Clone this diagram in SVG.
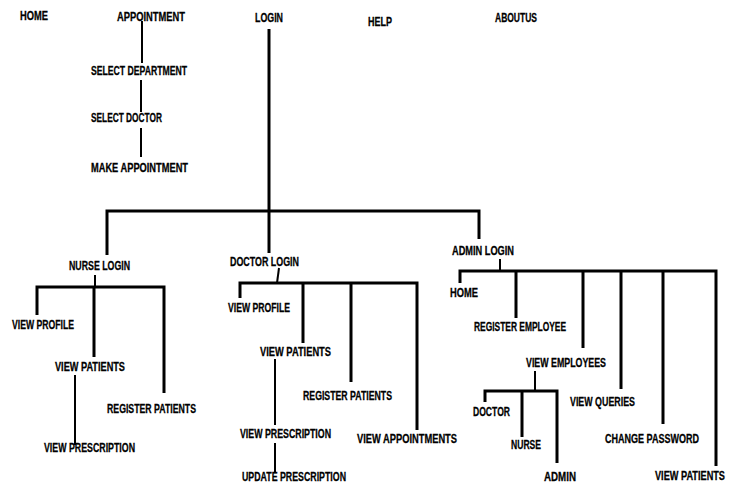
<svg xmlns="http://www.w3.org/2000/svg" width="735" height="486" viewBox="0 0 735 486">
<style>
text{font-family:"Liberation Sans Narrow","Liberation Sans",Arial,sans-serif;font-weight:bold;font-size:13px;fill:#000;stroke:#000;stroke-width:0.3}
.c{fill:none;stroke:#000;stroke-width:3;stroke-linejoin:miter;stroke-linecap:butt}
.t{stroke-width:2}
</style>
<rect width="735" height="486" fill="#fff"/>
<g id="connectors">
<path class="c t" d="M142 21V63M141 80V112M141 128V157"/>
<path class="c" d="M269 29V253"/>
<path class="c" d="M107 255V211H479V239"/>
<path class="c t" d="M95 275V287"/>
<path class="c" d="M37 315V287H164V393M94 287V357"/>
<path class="c t" d="M75 375V445"/>
<path class="c t" d="M279 268L277 283"/>
<path class="c" d="M240 298V283H417V430M303 283V343M351 283V382"/>
<path class="c t" d="M275 359V425M275 443V473"/>
<path class="c t" d="M500 259V271"/>
<path class="c" d="M460 283V271H716V466M516 271V318M583 271V348M621 271V389M663 271V424"/>
<path class="c t" d="M535 371V391"/>
<path class="c" d="M485 402V391H557V463M522 391V437"/>
</g>
<g id="n-home"><text x="20" y="20" textLength="28" lengthAdjust="spacingAndGlyphs">HOME</text></g>
<g id="n-appointment"><text x="117" y="21" textLength="68" lengthAdjust="spacingAndGlyphs">APPOINTMENT</text></g>
<g id="n-login"><text x="255" y="22" textLength="28" lengthAdjust="spacingAndGlyphs">LOGIN</text></g>
<g id="n-help"><text x="368" y="26" textLength="24" lengthAdjust="spacingAndGlyphs">HELP</text></g>
<g id="n-aboutus"><text x="495" y="22" textLength="42" lengthAdjust="spacingAndGlyphs">ABOUTUS</text></g>
<g id="n-selectdept"><text x="91" y="75" textLength="96" lengthAdjust="spacingAndGlyphs">SELECT DEPARTMENT</text></g>
<g id="n-selectdoc"><text x="91" y="122" textLength="71" lengthAdjust="spacingAndGlyphs">SELECT DOCTOR</text></g>
<g id="n-makeappt"><text x="91" y="172" textLength="97" lengthAdjust="spacingAndGlyphs">MAKE APPOINTMENT</text></g>
<g id="n-nurselogin"><text x="69" y="270" textLength="61" lengthAdjust="spacingAndGlyphs">NURSE LOGIN</text></g>
<g id="n-nurse-profile"><text x="12" y="329" textLength="62" lengthAdjust="spacingAndGlyphs">VIEW PROFILE</text></g>
<g id="n-nurse-patients"><text x="55" y="371" textLength="70" lengthAdjust="spacingAndGlyphs">VIEW PATIENTS</text></g>
<g id="n-nurse-register"><text x="107" y="413" textLength="89" lengthAdjust="spacingAndGlyphs">REGISTER PATIENTS</text></g>
<g id="n-nurse-prescription"><text x="44" y="452" textLength="91" lengthAdjust="spacingAndGlyphs">VIEW PRESCRIPTION</text></g>
<g id="n-doctorlogin"><text x="230" y="266" textLength="69" lengthAdjust="spacingAndGlyphs">DOCTOR LOGIN</text></g>
<g id="n-doc-profile"><text x="228" y="312" textLength="62" lengthAdjust="spacingAndGlyphs">VIEW PROFILE</text></g>
<g id="n-doc-patients"><text x="260" y="356" textLength="71" lengthAdjust="spacingAndGlyphs">VIEW PATIENTS</text></g>
<g id="n-doc-register"><text x="303" y="400" textLength="89" lengthAdjust="spacingAndGlyphs">REGISTER PATIENTS</text></g>
<g id="n-doc-appointments"><text x="357" y="443" textLength="100" lengthAdjust="spacingAndGlyphs">VIEW APPOINTMENTS</text></g>
<g id="n-doc-prescription"><text x="240" y="438" textLength="91" lengthAdjust="spacingAndGlyphs">VIEW PRESCRIPTION</text></g>
<g id="n-doc-update"><text x="242" y="481" textLength="104" lengthAdjust="spacingAndGlyphs">UPDATE PRESCRIPTION</text></g>
<g id="n-adminlogin"><text x="452" y="255" textLength="62" lengthAdjust="spacingAndGlyphs">ADMIN LOGIN</text></g>
<g id="n-admin-home"><text x="450" y="297" textLength="28" lengthAdjust="spacingAndGlyphs">HOME</text></g>
<g id="n-admin-register"><text x="474" y="331" textLength="92" lengthAdjust="spacingAndGlyphs">REGISTER EMPLOYEE</text></g>
<g id="n-admin-employees"><text x="526" y="367" textLength="80" lengthAdjust="spacingAndGlyphs">VIEW EMPLOYEES</text></g>
<g id="n-admin-queries"><text x="570" y="406" textLength="65" lengthAdjust="spacingAndGlyphs">VIEW QUERIES</text></g>
<g id="n-admin-password"><text x="605" y="443" textLength="94" lengthAdjust="spacingAndGlyphs">CHANGE PASSWORD</text></g>
<g id="n-admin-patients"><text x="655" y="480" textLength="70" lengthAdjust="spacingAndGlyphs">VIEW PATIENTS</text></g>
<g id="n-emp-doctor"><text x="473" y="416" textLength="37" lengthAdjust="spacingAndGlyphs">DOCTOR</text></g>
<g id="n-emp-nurse"><text x="511" y="449" textLength="30" lengthAdjust="spacingAndGlyphs">NURSE</text></g>
<g id="n-emp-admin"><text x="544" y="481" textLength="32" lengthAdjust="spacingAndGlyphs">ADMIN</text></g>
</svg>
